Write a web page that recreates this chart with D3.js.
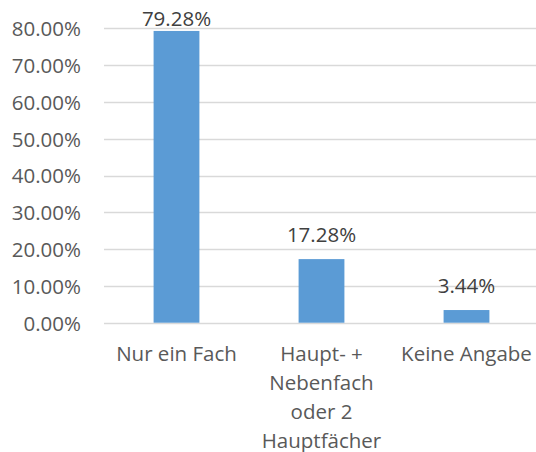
<!DOCTYPE html>
<html><head><meta charset="utf-8">
<script src="https://cdn.jsdelivr.net/npm/d3@7"></script>
<style>body{margin:0;background:#fff}svg{display:block}</style>
</head><body>
<svg id="c" width="536" height="452"></svg>
<script>
const categories = [["Nur ein Fach"], ["Haupt- +", "Nebenfach", "oder 2", "Hauptfächer"], ["Keine Angabe"]];
const values = [79.28, 17.28, 3.44];
const yTicks = [0, 10, 20, 30, 40, 50, 60, 70, 80];

(function () {
const svg = d3.select("#c");
const font = "'Open Sans', sans-serif";
const mLeft = 104, mRight = 539, mTop = 28.3, mBottom = 322.7;

const x = d3.scaleBand().domain(d3.range(values.length)).range([mLeft, mRight]).paddingInner(0).paddingOuter(0);
const y = d3.scaleLinear().domain([0, 80]).range([mBottom, mTop]);
const barW = x.bandwidth() * 0.316;

// gridlines
svg.append("g").selectAll("line").data(yTicks).join("line")
  .attr("x1", mLeft).attr("x2", mRight)
  .attr("y1", d => Math.round(y(d)) + 0.5).attr("y2", d => Math.round(y(d)) + 0.5)
  .attr("stroke", "#D9D9D9").attr("stroke-width", 1.3);

// y axis labels
const yAxis = d3.axisLeft(y).tickValues(yTicks).tickFormat(d => d.toFixed(2) + "%").tickSize(0).tickPadding(0);
const gy = svg.append("g").attr("transform", "translate(81,0)").call(yAxis);
gy.select(".domain").remove();
gy.selectAll("text").attr("font-family", font).attr("font-size", 20.5).attr("fill", "#595959").attr("dy", "0.36em");

// bars
svg.append("g").selectAll("rect").data(values).join("rect")
  .attr("x", (d, i) => x(i) + x.bandwidth() / 2 - barW / 2)
  .attr("width", barW)
  .attr("y", d => y(d))
  .attr("height", d => mBottom - y(d))
  .attr("fill", "#5B9BD5");

// value labels
svg.append("g").selectAll("text").data(values).join("text")
  .attr("x", (d, i) => x(i) + x.bandwidth() / 2)
  .attr("y", d => Math.max(y(d) - 25, 18) + 7.5)
  .attr("text-anchor", "middle")
  .attr("font-family", font).attr("font-size", 20.5).attr("fill", "#404040")
  .text(d => d.toFixed(2) + "%");

// category labels
const gx = svg.append("g");
categories.forEach((lines, i) => {
  const t = gx.append("text")
    .attr("text-anchor", "middle")
    .attr("font-family", font).attr("font-size", 20.5).attr("fill", "#595959");
  lines.forEach((ln, j) => {
    t.append("tspan").attr("x", x(i) + x.bandwidth() / 2).attr("y", 360.5 + j * 29).text(ln);
  });
});
})();
</script>
</body></html>
